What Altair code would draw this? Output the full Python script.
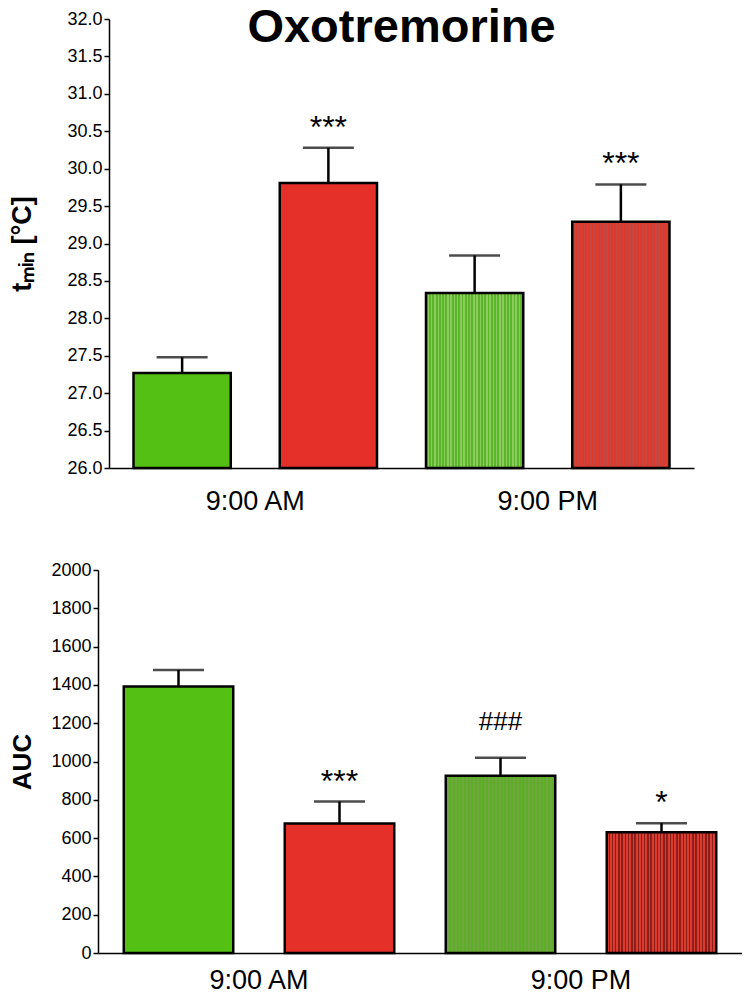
import altair as alt
import pandas as pd

# ---------------- data ----------------
groups = ["9:00 AM", "9:00 AM", "9:00 PM", "9:00 PM"]
bar_ids = ["green_am", "red_am", "green_pm", "red_pm"]
treat = ["control", "oxo", "control", "oxo"]

tmin_mean = [27.27, 29.81, 28.34, 29.29]
tmin_sem = [0.21, 0.47, 0.50, 0.50]
tmin_mark = ["", "***", "", "***"]
tmin_ticks = [26.0, 26.5, 27.0, 27.5, 28.0, 28.5, 29.0, 29.5, 30.0, 30.5, 31.0, 31.5, 32.0]

auc_mean = [1391, 676, 925, 630]
auc_sem = [87, 115, 94, 48]
auc_mark = ["", "***", "###", "*"]
auc_ticks = [0, 200, 400, 600, 800, 1000, 1200, 1400, 1600, 1800, 2000]

title_text = ["Oxotremorine"]
FONT = "Liberation Sans"


def stripes(c1, c2, n=30, f=0.55):
    stops = []
    for i in range(n):
        a, b, c = i / n, (i + f) / n, (i + 1) / n
        stops += [
            {"offset": a, "color": c1},
            {"offset": b, "color": c1},
            {"offset": b, "color": c2},
            {"offset": c, "color": c2},
        ]
    return {"gradient": "linear", "x1": 0, "x2": 1, "y1": 0, "y2": 0, "stops": stops}


top_fills = {
    "green_am": "#55C014",
    "red_am": "#E5302A",
    "green_pm": stripes("#5BB52B", "#8ACD5C"),
    "red_pm": stripes("#DC3A2F", "#C4483F"),
}
bot_fills = {
    "green_am": "#55C014",
    "red_am": "#E5302A",
    "green_pm": stripes("#5CAE28", "#70A83F"),
    "red_pm": stripes("#DC3B2F", "#8B1E18", n=34),
}


def panel(mean, sem, marks, ticks, fmt, ytitle, width, height, xrange, yoffset,
          fills, pinner, pouter, xlabpad, ytitlepad, ytitlesize, with_title):
    df = pd.DataFrame({"group": groups, "bar": bar_ids, "treat": treat,
                       "mean": mean, "sem": sem, "mark": marks})
    lo, hi = ticks[0], ticks[-1]
    yscale = alt.Scale(domain=[lo, hi], zero=False, nice=False)
    x = alt.X("group:N", scale=alt.Scale(paddingInner=0, paddingOuter=0, range=xrange),
              axis=alt.Axis(title=None, labelAngle=0, ticks=False, labelFontSize=27,
                            labelFont=FONT, labelColor="black", labelPadding=xlabpad,
                            domainColor="black", domainWidth=1.5))
    xo = alt.XOffset("treat:N", scale=alt.Scale(domain=["control", "oxo"],
                                                 paddingInner=pinner, paddingOuter=pouter))
    yaxis = alt.Axis(title=ytitle, values=ticks, format=fmt, grid=False,
                     labelOverlap=False, offset=yoffset,
                     domainColor="black", domainWidth=1.5, tickColor="black",
                     tickWidth=1.5, tickSize=5, labelFontSize=18, labelFont=FONT,
                     labelColor="black", labelPadding=2, titleFont=FONT,
                     titleFontSize=ytitlesize, titleFontWeight="bold", titleColor="black",
                     titlePadding=ytitlepad)
    y_mean = alt.Y("mean:Q", scale=yscale, axis=yaxis)
    y_up = alt.Y("upper:Q", scale=yscale, axis=yaxis)
    base = alt.Chart(df).transform_calculate(upper="datum.mean + datum.sem")
    layers = []
    for b in bar_ids:
        layers.append(
            base.transform_filter(alt.datum.bar == b)
            .mark_bar(fill=fills[b], stroke="black", strokeWidth=2.5)
            .encode(x=x, xOffset=xo, y=y_mean, y2=alt.datum(lo))
        )
    layers.append(
        base.mark_rule(color="black", strokeWidth=2.5)
        .encode(x=x, xOffset=xo, y=y_mean, y2="upper:Q")
    )
    layers.append(
        base.mark_tick(color="black", size=51, thickness=2.5)
        .encode(x=x, xOffset=xo, y=y_up)
    )
    layers.append(
        base.transform_filter("indexof(datum.mark, '*') >= 0")
        .mark_text(font=FONT, fontSize=32, color="black", dy=-10, baseline="alphabetic",
                   align="center")
        .encode(x=x, xOffset=xo, y=y_up, text="mark:N")
    )
    layers.append(
        base.transform_filter("indexof(datum.mark, '#') >= 0")
        .mark_text(font=FONT, fontSize=26, color="black", dy=-28, baseline="alphabetic",
                   align="center")
        .encode(x=x, xOffset=xo, y=y_up, text="mark:N")
    )
    if with_title:
        layers.append(
            alt.Chart(pd.DataFrame({"t": title_text}))
            .mark_text(font=FONT, fontSize=47, fontWeight="bold", color="black",
                       baseline="alphabetic", align="center")
            .encode(text="t:N", x=alt.value((xrange[0] + xrange[1]) / 2), y=alt.value(23))
        )
    return alt.layer(*layers).properties(width=width, height=height)


# both panels share the same left origin (page x ~97); the top one starts its
# axis 11 px further right.
top = panel(tmin_mean, tmin_sem, tmin_mark, tmin_ticks, ".1f", "t\u2098\u1d62\u2099 [°C]",
            596, 449, [11, 596], -11, top_fills, 0.335, 0.1675, 20, 30, 27, True)
bottom = panel(auc_mean, auc_sem, auc_mark, auc_ticks, "d", "AUC",
               644, 383, [0, 644], 0, bot_fills, 0.32, 0.16, 14, 15, 26, False)

chart = (alt.concat(top, bottom, columns=1, spacing=47)
         .resolve_scale(xOffset="independent")
         .properties(padding={"left": 0, "top": -4, "right": 0, "bottom": 0},
                     background="white")
         .configure_axis(labelOverlap=False)
         .configure_view(stroke=None))

chart.save("out.html", embed_options={"renderer": "svg", "actions": False})
